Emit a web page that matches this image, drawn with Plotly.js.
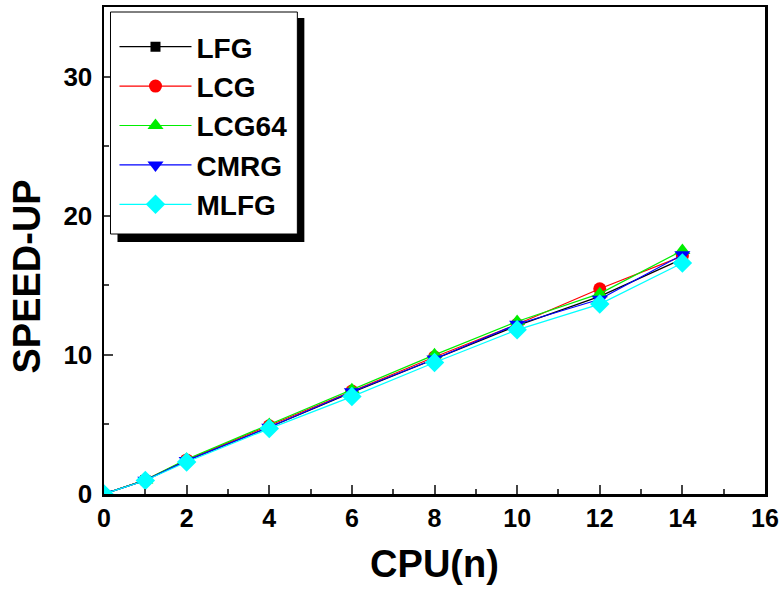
<!DOCTYPE html>
<html>
<head>
<meta charset="utf-8">
<script src="https://cdn.plot.ly/plotly-3.0.1.min.js"></script>
<style>html,body{margin:0;padding:0;background:#fff}#chart{width:781px;height:596px}</style>
</head>
<body>
<div id="chart"></div>
<script>
var cpus = [0, 1, 2, 4, 6, 8, 10, 12, 14];
var seriesNames = ["LFG", "LCG", "LCG64", "CMRG", "MLFG"];
var lfg   = [0, 1.00, 2.40, 4.80, 7.30, 9.70, 12.10, 14.20, 16.90];
var lcg   = [0, 1.00, 2.45, 4.90, 7.40, 9.85, 12.20, 14.75, 17.10];
var lcg64 = [0, 1.00, 2.50, 5.00, 7.50, 10.00, 12.40, 14.40, 17.50];
var cmrg  = [0, 0.98, 2.40, 4.80, 7.35, 9.70, 12.20, 14.00, 17.20];
var mlfg  = [0, 0.97, 2.30, 4.70, 7.00, 9.45, 11.80, 13.65, 16.60];
var xTickVals = [0, 2, 4, 6, 8, 10, 12, 14, 16];
var xTickText = ["0", "2", "4", "6", "8", "10", "12", "14", "16"];
var yTickVals = [0, 10, 20, 30];
var yTickText = ["0", "10", "20", "30"];

var values = [lfg, lcg, lcg64, cmrg, mlfg];
var colors = ["#000000", "#ff0000", "#00ee00", "#0000ff", "#00ffff"];
var symbols = ["square", "circle", "triangle-up", "triangle-down", "diamond"];
var sizes = [10, 13, 14, 14, 15];

var traces = seriesNames.map(function (n, i) {
  return {
    x: cpus, y: values[i], name: n, type: "scatter", mode: "lines+markers",
    line: {color: colors[i], width: 1.2},
    marker: {symbol: symbols[i], size: sizes[i], color: colors[i]}
  };
});

function bold(a) { return a.map(function (t) { return "<b>" + t + "</b>"; }); }

var L = 103.5, R = 765, T = 7, B = 494;
function px(x) { return (x - L) / (R - L); }
function py(y) { return (B - y) / (B - T); }

var layout = {
  width: 781, height: 596,
  margin: {l: 103.5, r: 16, t: 7, b: 102},
  paper_bgcolor: "#fff", plot_bgcolor: "#fff",
  showlegend: true,
  font: {family: "Liberation Sans, Arial, sans-serif", color: "#000"},
  xaxis: {
    range: [0, 16], tickvals: xTickVals, ticktext: bold(xTickText), ticks: "inside", ticklen: 9, tickwidth: 2,
    minor: {dtick: 1, ticks: "inside", ticklen: 5, tickwidth: 2},
    showline: true, linewidth: 2.5, linecolor: "#000", mirror: true,
    showgrid: false, zeroline: false,
    tickfont: {family: "Liberation Sans Narrow, Arial Narrow, Liberation Sans, sans-serif", size: 25, color: "#000"},
    title: {text: "<b>CPU(n)</b>", font: {family: "Liberation Sans Narrow, Arial Narrow, Liberation Sans, sans-serif", size: 38, color: "#000"}, standoff: 20}
  },
  yaxis: {
    range: [0, 35], tickvals: yTickVals, ticktext: bold(yTickText), ticks: "inside", ticklen: 9, tickwidth: 2,
    minor: {tickvals: [5, 15, 25], ticks: "inside", ticklen: 5, tickwidth: 2},
    showline: true, linewidth: 2.5, linecolor: "#000", mirror: true,
    showgrid: false, zeroline: false, ticklabelstandoff: 4,
    tickfont: {family: "Liberation Sans, Arial, sans-serif", size: 26, color: "#000"}
  },
  legend: {
    x: px(114), y: py(22), xanchor: "left", yanchor: "top",
    bgcolor: "rgba(0,0,0,0)", borderwidth: 0,
    font: {family: "Liberation Sans, Arial, sans-serif", size: 28, color: "#000", weight: "bold"},
    itemwidth: 72, tracegroupgap: 0
  },
  annotations: [
    {text: "<b>SPEED-UP</b>", xref: "paper", yref: "paper", x: px(26), y: py(277),
     xanchor: "center", yanchor: "middle", textangle: -90, showarrow: false,
     font: {family: "Liberation Sans, Arial, sans-serif", size: 38, color: "#000"}}
  ],
  shapes: [
    {type: "rect", xref: "paper", yref: "paper", x0: px(117), x1: px(304), y0: py(242), y1: py(18),
     fillcolor: "#000", line: {width: 0}, layer: "above"},
    {type: "rect", xref: "paper", yref: "paper", x0: px(110), x1: px(297), y0: py(234), y1: py(12),
     fillcolor: "#fff", line: {color: "#000", width: 1}, layer: "above"}
  ]
};

Plotly.newPlot("chart", traces, layout, {displayModeBar: false, staticPlot: true});
</script>
</body>
</html>
